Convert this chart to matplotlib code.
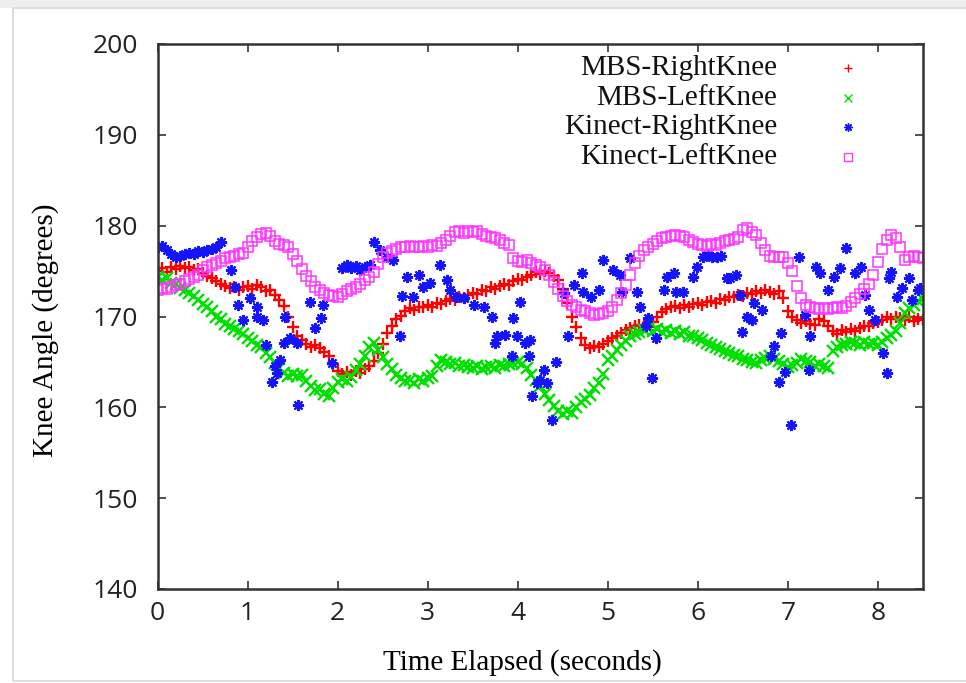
import numpy as np
import matplotlib
matplotlib.use("Agg")
import matplotlib.pyplot as plt
from matplotlib.patches import Rectangle

# MBS traces, sampled every 0.05 s from 0 to 8.5 s
dt = 0.05
mbs_right = [
    175.0, 175.3, 174.9, 175.4, 175.2, 175.6, 175.3, 175.5, 175.1, 175.2,
    174.8, 174.5, 174.2, 173.9, 173.6, 173.4, 173.1, 173.3, 172.9, 173.2,
    173.4, 173.0, 173.5, 173.2, 172.8, 172.9, 172.4, 171.8, 171.2, 169.9,
    168.8, 167.9, 167.4, 167.0, 166.6, 166.9, 166.5, 166.1, 165.6, 164.8,
    164.0, 163.7, 163.9, 163.6, 164.0, 163.8, 164.2, 164.5, 165.1, 166.0,
    167.0, 168.2, 169.0, 169.7, 170.1, 170.6, 170.9, 170.7, 171.1, 171.0,
    171.3, 171.1, 171.5, 171.4, 171.7, 171.9, 171.8, 172.1, 172.0, 172.4,
    172.6, 172.5, 172.9, 172.8, 173.2, 173.0, 173.4, 173.6, 173.5, 173.9,
    174.1, 174.0, 174.4, 174.6, 174.9, 174.7, 175.0, 174.8, 174.5, 174.0,
    173.0, 171.5, 170.0, 168.8, 167.6, 166.9, 166.5, 166.8, 166.6, 167.0,
    167.3, 167.6, 167.9, 168.2, 168.5, 168.7, 168.9, 169.1, 169.0, 169.3,
    169.4, 169.9, 170.5, 170.8, 171.0, 171.2, 170.9, 171.3, 171.1, 171.4,
    171.5, 171.3, 171.6, 171.7, 171.5, 171.9, 171.8, 172.1, 172.2, 172.4,
    172.3, 172.6, 172.5, 172.8, 172.6, 172.9, 172.7, 172.5, 172.8, 172.0,
    170.6, 170.0, 169.6, 169.3, 169.5, 169.2, 169.1, 169.7, 169.5, 169.0,
    168.4, 168.1, 168.5, 168.3, 168.6, 168.4, 168.7, 168.9, 169.0, 169.3,
    169.4, 169.6, 169.9, 169.7, 170.0, 169.8, 169.6, 169.9, 169.5, 169.7,
    169.6,
]
mbs_left = [
    174.3, 174.0, 174.2, 173.7, 173.6, 173.1, 172.9, 172.6, 172.3, 171.8,
    171.4, 171.0, 170.6, 170.0, 169.7, 169.2, 168.9, 168.6, 168.4, 168.1,
    167.6, 167.3, 166.9, 166.6, 166.0, 165.5, 164.9, 164.3, 163.8, 163.5,
    163.7, 163.4, 163.6, 162.9, 162.3, 161.9, 162.0, 161.5, 161.2, 162.1,
    162.8, 163.1, 162.9, 163.3, 164.1, 164.8, 165.6, 166.6, 167.1, 166.3,
    165.5, 164.8, 164.2, 163.6, 163.2, 162.9, 163.0, 162.7, 163.1, 162.9,
    163.2, 163.5, 164.6, 165.2, 165.0, 164.8, 164.9, 164.6, 164.7, 164.4,
    164.3, 164.5, 164.2, 164.4, 164.6, 164.3, 164.7, 164.5, 164.8, 164.9,
    165.0, 164.8, 164.3, 163.6, 163.0, 162.3, 161.5, 160.8, 160.1, 159.6,
    159.3, 159.6, 159.4, 160.0, 160.6, 160.9, 161.4, 162.1, 162.7, 163.7,
    165.2, 165.6, 166.3, 166.9, 167.3, 167.8, 168.1, 168.3, 168.5, 168.7,
    168.4, 168.6, 168.3, 168.5, 168.2, 168.4, 168.1, 168.3, 167.9, 167.8,
    167.6, 167.4, 167.1, 166.9, 166.6, 166.4, 166.2, 166.0, 165.8, 165.6,
    165.3, 165.2, 165.0, 164.9, 165.2, 165.4, 165.6, 165.3, 165.1, 164.8,
    164.4, 164.7, 164.9, 165.3, 165.1, 165.0, 164.6, 164.8, 164.5, 164.3,
    166.2, 166.6, 166.9, 167.0, 167.2, 167.1, 166.9, 167.2, 167.0, 167.1,
    166.9, 167.2, 167.6, 168.0, 168.4, 169.3, 170.4, 170.9, 171.3, 171.7,
    171.9,
]
kinect_left = [
    172.9, 173.1, 173.0, 173.3, 173.5, 173.6, 173.9, 174.1, 174.4, 174.6,
    175.1, 175.4, 175.7, 175.9, 176.1, 176.4, 176.5, 176.7, 176.9, 177.0,
    177.6, 178.3, 178.8, 179.1, 179.2, 178.9, 178.3, 178.0, 177.9, 177.6,
    176.9, 176.1, 175.2, 174.5, 173.9, 173.3, 172.9, 172.6, 172.4, 172.3,
    172.2, 172.5, 172.8, 173.0, 173.3, 173.6, 174.0, 174.4, 174.9, 175.8,
    176.5, 177.0, 177.2, 177.4, 177.7, 177.6, 177.8, 177.6, 177.7, 177.8,
    177.7, 177.9, 177.8, 178.1, 178.4, 178.9, 179.3, 179.4, 179.2, 179.4,
    179.3, 179.4, 179.1, 178.9, 178.8, 178.6, 178.4, 178.1, 177.9, 176.4,
    176.1, 176.0, 176.2, 175.9, 175.7, 175.5, 175.1, 174.6, 173.8, 173.0,
    172.3, 171.7, 171.3, 171.0, 170.7, 170.6, 170.4, 170.2, 170.3, 170.4,
    170.6, 171.0, 171.8, 172.6, 173.5, 174.6, 175.9, 176.7, 177.3, 177.7,
    178.0, 178.3, 178.6, 178.8, 178.9, 179.0, 178.9, 178.7, 178.4, 178.2,
    178.0, 177.9, 177.8, 178.0, 177.9, 178.1, 178.3, 178.4, 178.5, 178.8,
    179.5, 179.7, 179.3, 179.0, 178.1, 177.3, 176.7, 176.6, 176.5, 176.6,
    175.9, 175.0, 173.4, 172.0, 171.3, 171.0, 170.9, 170.8, 170.9, 170.8,
    170.9, 171.0, 170.9, 171.2, 171.6, 172.0, 172.5, 173.0, 173.6, 174.6,
    176.0, 177.4, 178.4, 179.0, 178.6, 177.6, 176.2, 176.5, 176.7, 176.6,
    176.4,
]

# Kinect right knee: irregular samples (time, angle)
kinect_right_t = [
    0.00, 0.05, 0.10, 0.15, 0.20, 0.25, 0.30, 0.35, 0.40, 0.45,
    0.50, 0.55, 0.60, 0.65, 0.70, 0.82, 0.86, 0.89, 0.95, 1.03,
    1.10, 1.10, 1.17, 1.21, 1.27, 1.31, 1.33, 1.36, 1.40, 1.42,
    1.47, 1.55, 1.56, 1.69, 1.75, 1.81, 1.84, 1.94, 2.05, 2.10,
    2.15, 2.20, 2.25, 2.30, 2.36, 2.40, 2.47, 2.55, 2.62, 2.69,
    2.71, 2.77, 2.84, 2.90, 2.95, 3.03, 3.14, 3.21, 3.25, 3.32,
    3.40, 3.51, 3.62, 3.71, 3.75, 3.77, 3.86, 3.94, 3.95, 3.99,
    4.03, 4.08, 4.12, 4.14, 4.16, 4.21, 4.25, 4.29, 4.33, 4.38,
    4.42, 4.51, 4.56, 4.62, 4.71, 4.73, 4.81, 4.90, 4.95, 5.06,
    5.14, 5.16, 5.25, 5.32, 5.36, 5.42, 5.45, 5.49, 5.53, 5.62,
    5.66, 5.73, 5.76, 5.84, 5.95, 5.99, 6.06, 6.11, 6.16, 6.21,
    6.26, 6.32, 6.36, 6.42, 6.47, 6.49, 6.55, 6.60, 6.62, 6.71,
    6.81, 6.84, 6.90, 6.92, 6.97, 7.03, 7.12, 7.19, 7.23, 7.25,
    7.31, 7.36, 7.44, 7.51, 7.58, 7.64, 7.75, 7.81, 7.86, 7.90,
    7.97, 8.06, 8.10, 8.12, 8.14, 8.21, 8.27, 8.34, 8.38, 8.44,
    8.47,
]
kinect_right = [
    177.6, 177.8, 177.3, 176.9, 176.6, 176.7, 176.9, 177.0, 176.9, 177.2,
    177.1, 177.3, 177.4, 177.6, 178.2, 175.1, 173.2, 171.3, 169.6, 172.0,
    171.1, 170.0, 169.6, 166.9, 162.8, 164.5, 163.8, 165.2, 167.1, 170.0,
    167.6, 167.1, 160.3, 171.6, 168.7, 169.8, 171.3, 164.9, 175.3, 175.7,
    175.3, 175.6, 175.1, 175.4, 175.7, 178.2, 177.3, 176.6, 176.2, 167.8,
    172.3, 174.4, 172.1, 174.6, 173.2, 173.7, 175.7, 174.0, 172.9, 172.2,
    172.0, 171.3, 171.1, 170.0, 167.1, 167.8, 168.0, 165.6, 169.8, 167.8,
    171.6, 167.1, 165.6, 167.4, 161.2, 162.7, 163.0, 164.1, 162.7, 158.6,
    165.0, 172.6, 167.8, 173.5, 174.8, 172.7, 172.2, 172.9, 176.2, 175.1,
    174.6, 172.7, 176.4, 172.7, 171.1, 168.9, 169.8, 163.2, 167.6, 172.9,
    174.4, 174.8, 172.7, 172.7, 174.4, 175.5, 176.6, 176.8, 176.5, 176.6,
    176.7, 174.2, 174.2, 174.6, 172.4, 168.3, 170.0, 169.6, 171.5, 170.7,
    165.6, 166.7, 162.8, 168.2, 163.9, 158.1, 176.6, 170.2, 164.1, 167.8,
    175.5, 174.8, 172.9, 174.4, 175.3, 177.5, 174.8, 175.5, 172.4, 170.7,
    169.6, 166.0, 163.8, 174.2, 174.9, 172.2, 173.1, 174.2, 171.8, 172.9,
    173.1,
]

labels = ["MBS-RightKnee", "MBS-LeftKnee", "Kinect-RightKnee", "Kinect-LeftKnee"]
styles = [
    dict(marker="+", color="#ff0000", ms=9, mew=1.7, ls="none"),
    dict(marker="x", color="#00e000", ms=8, mew=1.7, ls="none"),
    dict(marker=(8, 2, 0), color="#1414ff", ms=8, mew=1.5, ls="none"),
    dict(marker="s", color="#ff33ff", mfc="none", ms=7, mew=1.1, ls="none"),
]
key_sizes = [6, 6, 6, 5.5]

t_mbs = np.arange(len(mbs_right)) * dt

fig = plt.figure(figsize=(9.66, 6.83), dpi=100)
# light page frame behind the plot
fig.patches.append(Rectangle((0, 1 - 8 / 683), 1, 8 / 683, transform=fig.transFigure,
                             facecolor="#eeeeee", edgecolor="none"))
fig.patches.append(Rectangle((13 / 966, 2 / 683), 1.0, 673 / 683, transform=fig.transFigure,
                             facecolor="none", edgecolor="#d8d8d8", lw=1.2))

ax = fig.add_axes([157.5 / 966, 94 / 683, (923 - 157.5) / 966, (589 - 44) / 683])

series = [(t_mbs, mbs_right), (t_mbs, mbs_left),
          (kinect_right_t, kinect_right), (t_mbs, kinect_left)]
for (tt, vv), st in zip(series, styles):
    ax.plot(tt, vv, **st)

ax.set_xlim(0, 8.5)
ax.set_ylim(140, 200)
ax.set_xticks(range(0, 9))
ax.set_yticks(range(140, 201, 10))
ax.tick_params(direction="in", length=6, width=1.2, top=True, right=True,
               color="#333333")
ax.tick_params(axis="x", pad=9)
ax.tick_params(axis="y", pad=14)
for lab in ax.get_xticklabels() + ax.get_yticklabels():
    lab.set_fontfamily("Open Sans")
    lab.set_fontsize(19)
    lab.set_color("#222222")
for sp in ax.spines.values():
    sp.set_linewidth(1.8)
    sp.set_color("#333333")

ax.set_xlabel("Time Elapsed (seconds)", family="Liberation Serif", fontsize=21, labelpad=16)
ax.set_ylabel("Knee Angle (degrees)", family="Liberation Serif", fontsize=21, labelpad=24)
ax.xaxis.label.set_x(0.477)
ax.yaxis.label.set_y(0.475)

# gnuplot-style key: right-aligned names with the sample marker after them
row_y = [0.956, 0.901, 0.847, 0.793]
for name, st, ks, y in zip(labels, styles, key_sizes, row_y):
    ax.text(0.810, y, name, transform=ax.transAxes, ha="right", va="center",
            family="Liberation Serif", fontsize=21, color="#111111")
    ax.plot([0.902], [y], transform=ax.transAxes, clip_on=False,
            **dict(st, ms=ks, mew=1.0))

fig.savefig("out.png", dpi=100)
